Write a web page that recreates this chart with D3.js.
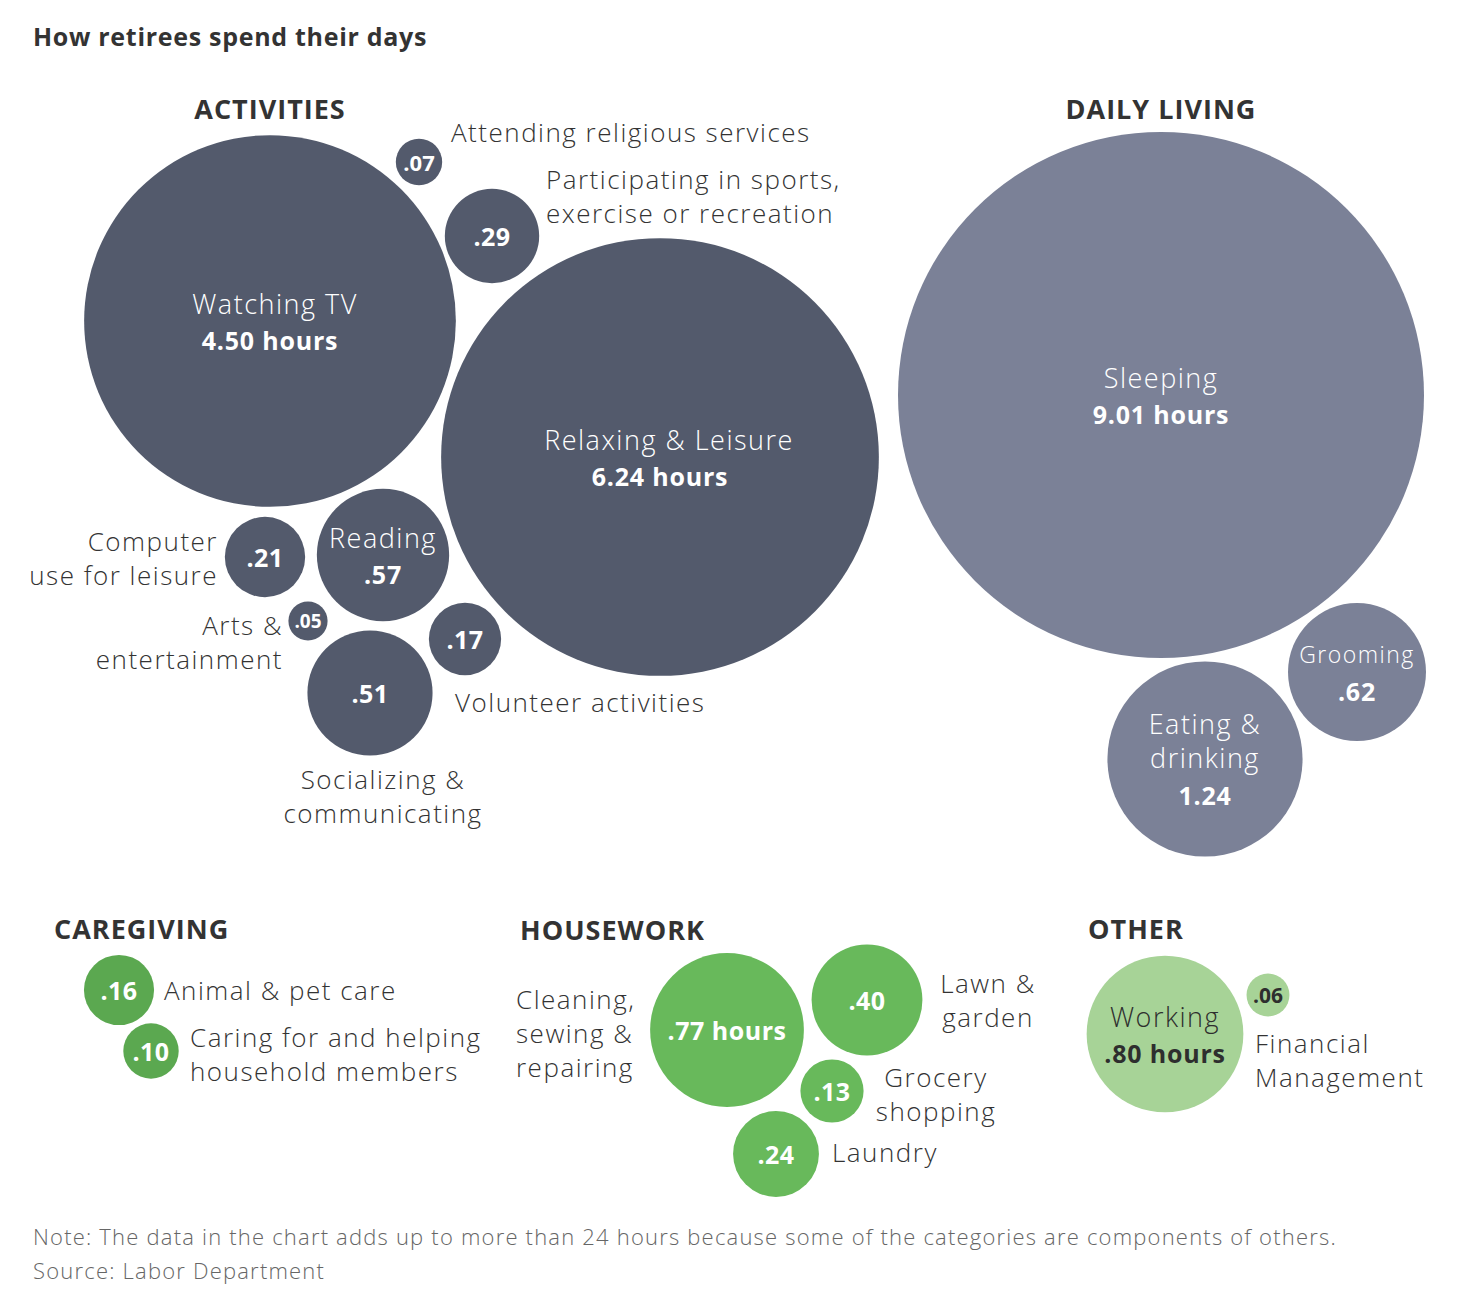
<!DOCTYPE html>
<html>
<head>
<meta charset="utf-8">
<script src="https://cdn.jsdelivr.net/npm/d3@7"></script>
<style>
  html, body { margin: 0; padding: 0; background: #fff; }
  svg { display: block; }
  text { font-family: "Open Sans", Lato, sans-serif; }
</style>
</head>
<body>
<svg id="chart" width="1478" height="1304"></svg>
<script>
// ---------------- DATA ----------------
const groupNames = ["ACTIVITIES", "DAILY LIVING", "CAREGIVING", "HOUSEWORK", "OTHER"];

const activityNames = ["Watching TV", "Relaxing & Leisure", "Attending religious services",
  "Participating in sports, exercise or recreation", "Computer use for leisure", "Reading",
  "Arts & entertainment", "Volunteer activities", "Socializing & communicating"];
const activityHours = [4.50, 6.24, 0.07, 0.29, 0.21, 0.57, 0.05, 0.17, 0.51];

const dailyNames = ["Sleeping", "Grooming", "Eating & drinking"];
const dailyHours = [9.01, 0.62, 1.24];

const caregivingNames = ["Animal & pet care", "Caring for and helping household members"];
const caregivingHours = [0.16, 0.10];

const houseworkNames = ["Cleaning, sewing & repairing", "Lawn & garden", "Grocery shopping", "Laundry"];
const houseworkHours = [0.77, 0.40, 0.13, 0.24];

const otherNames = ["Working", "Financial Management"];
const otherHours = [0.80, 0.06];

const titleText = "How retirees spend their days";
const noteText = "Note: The data in the chart adds up to more than 24 hours because some of the categories are components of others.";
const sourceText = "Source: Labor Department";

// ---------------- LAYOUT (presentation only) ----------------
const groupStyle = {
  "ACTIVITIES":   { fill: "#535a6c", text: "#fff", header: [270, 108, "middle"] },
  "DAILY LIVING": { fill: "#7b8197", text: "#fff", header: [1161, 108, "middle"] },
  "CAREGIVING":   { fill: "#5ba850", text: "#fff", header: [54, 928, "start"] },
  "HOUSEWORK":    { fill: "#68b95b", text: "#fff", header: [520, 929, "start"] },
  "OTHER":        { fill: "#a7d397", text: "#2e2e2e", header: [1088, 928, "start"] }
};

const layout = {
  "Watching TV": { c: [270, 321], inside: ["Watching TV"], hours: true, tx: 275 },
  "Relaxing & Leisure": { c: [660, 457], inside: ["Relaxing & Leisure"], hours: true, tx: 669 },
  "Attending religious services": { c: [419, 162], vsize: 22, out: { x: 451, y: 132, a: "start", lines: ["Attending religious services"] } },
  "Participating in sports, exercise or recreation": { c: [492, 236], out: { x: 546, y: 179, a: "start", lines: ["Participating in sports,", "exercise or recreation"] } },
  "Computer use for leisure": { c: [265, 557], out: { x: 218, y: 541, a: "end", lines: ["Computer", "use for leisure"] } },
  "Reading": { c: [383, 555], inside: ["Reading"] },
  "Arts & entertainment": { c: [308, 621], vsize: 19, out: { x: 283, y: 625, a: "end", lines: ["Arts &", "entertainment"] } },
  "Volunteer activities": { c: [465, 639], out: { x: 455, y: 702, a: "start", lines: ["Volunteer activities"] } },
  "Socializing & communicating": { c: [370, 693], out: { x: 383, y: 779, a: "middle", lines: ["Socializing &", "communicating"] } },
  "Sleeping": { c: [1161, 395], inside: ["Sleeping"], hours: true },
  "Grooming": { c: [1357, 672], inside: ["Grooming"], nsize: 23 },
  "Eating & drinking": { c: [1205, 759], inside: ["Eating &", "drinking"] },
  "Animal & pet care": { c: [119, 990], out: { x: 164, y: 990, a: "start", lines: ["Animal & pet care"] } },
  "Caring for and helping household members": { c: [151, 1051], out: { x: 190, y: 1037, a: "start", lines: ["Caring for and helping", "household members"] } },
  "Cleaning, sewing & repairing": { c: [727, 1030], hours: true, out: { x: 516, y: 999, a: "start", lines: ["Cleaning,", "sewing &", "repairing"] } },
  "Lawn & garden": { c: [867, 1000], out: { x: 988, y: 983, a: "middle", lines: ["Lawn &", "garden"] } },
  "Grocery shopping": { c: [832, 1091], out: { x: 936, y: 1077, a: "middle", lines: ["Grocery", "shopping"] } },
  "Laundry": { c: [776, 1154], out: { x: 832, y: 1152, a: "start", lines: ["Laundry"] } },
  "Working": { c: [1165, 1034], inside: ["Working"], hours: true },
  "Financial Management": { c: [1268, 995], vsize: 21, out: { x: 1255, y: 1043, a: "start", lines: ["Financial", "Management"] } }
};

// ---------------- BUILD ----------------
const groupsData = [
  [groupNames[0], activityNames, activityHours],
  [groupNames[1], dailyNames, dailyHours],
  [groupNames[2], caregivingNames, caregivingHours],
  [groupNames[3], houseworkNames, houseworkHours],
  [groupNames[4], otherNames, otherHours]
];
const items = [];
groupsData.forEach(([g, names, vals]) => {
  names.forEach((n, i) => items.push({ group: g, name: n, value: vals[i], L: layout[n] }));
});

const svg = d3.select("#chart");
const r = d3.scaleSqrt().domain([0, 9.01]).range([0, 263]);
const fmt = v => { const s = d3.format(".2f")(v); return v < 1 ? s.replace(/^0/, "") : s; };

const LABEL = 26, INNAME = 27, VAL = 25, LH = 34;
const labelColor = "#333";
const LW = 300;

function txt(x, y, s, size, weight, fill, anchor, ls) {
  return svg.append("text").attr("x", x).attr("y", y)
    .attr("text-anchor", anchor || "start").attr("dominant-baseline", "central")
    .attr("font-size", size).attr("font-weight", weight).attr("fill", fill)
    .attr("letter-spacing", ls || 0).text(s);
}

// title
txt(33, 36, titleText, 25, 700, "#333", "start", 0.7);

// headers
groupNames.forEach(g => {
  const h = groupStyle[g].header;
  txt(h[0], h[1], g, 27, 700, "#333", h[2], 1.0);
});

// bubbles
svg.append("g").selectAll("circle").data(items).join("circle")
  .attr("cx", d => d.L.c[0]).attr("cy", d => d.L.c[1])
  .attr("r", d => r(d.value))
  .attr("fill", d => groupStyle[d.group].fill);

// text in & around bubbles
items.forEach(d => {
  const L = d.L, st = groupStyle[d.group];
  const cx = L.tx !== undefined ? L.tx : L.c[0];
  const valStr = fmt(d.value) + (L.hours ? " hours" : "");
  const vs = L.vsize || VAL;
  if (L.inside) {
    const n = L.inside.length;
    let y0, vy;
    if (n === 1) { y0 = L.c[1] - 18; vy = L.c[1] + 19; }
    else { y0 = L.c[1] - 36; vy = L.c[1] + 36; }
    L.inside.forEach((line, i) => txt(cx, y0 + i * 34, line, L.nsize || INNAME, LW, st.text, "middle", 1.5));
    txt(L.c[0], vy, valStr, vs, 700, st.text, "middle", 0.8);
  } else {
    txt(L.c[0], L.c[1], valStr, vs, 700, st.text, "middle", vs < 23 ? 0 : 0.5);
  }
  if (L.out) {
    L.out.lines.forEach((line, i) => txt(L.out.x, L.out.y + i * LH, line, LABEL, LW, labelColor, L.out.a, 1.5));
  }
});

// note & source
txt(33, 1236, noteText, 22, LW, "#666", "start", 1.2);
txt(33, 1270, sourceText, 22, LW, "#666", "start", 1.2);
</script>
</body>
</html>
